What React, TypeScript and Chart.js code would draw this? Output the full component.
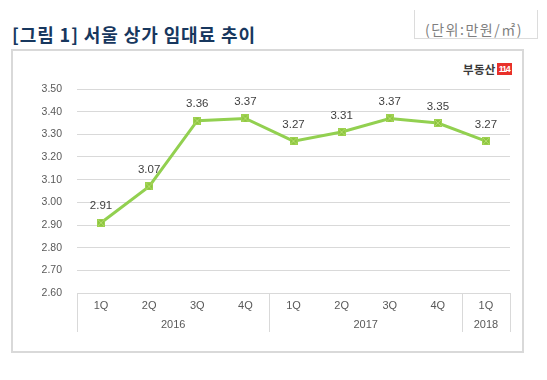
import React, { useEffect, useRef } from "react";
import { Chart, registerables } from "chart.js";

Chart.register(...registerables);

const quarters = ["1Q", "2Q", "3Q", "4Q", "1Q", "2Q", "3Q", "4Q", "1Q"];
const years = ["2016", "2017", "2018"];
const yearSpans = [4, 4, 1];
const rents = [2.91, 3.07, 3.36, 3.37, 3.27, 3.31, 3.37, 3.35, 3.27];
const yMin = 2.6;
const yMax = 3.5;
const yStep = 0.1;

const FONT = "'Liberation Sans', 'Noto Sans', sans-serif";
const KFONT = "'Noto Sans CJK KR', sans-serif";

function makeMarker() {
  const c = document.createElement("canvas");
  c.width = 8;
  c.height = 8;
  const g = c.getContext("2d")!;
  g.fillStyle = "#8cc63f";
  g.fillRect(0, 0, 8, 8);
  g.strokeStyle = "#b4dc6c";
  g.lineWidth = 1;
  g.beginPath();
  g.moveTo(1, 1);
  g.lineTo(7, 7);
  g.moveTo(7, 1);
  g.lineTo(1, 7);
  g.stroke();
  g.strokeStyle = "#9ed14f";
  g.strokeRect(0.5, 0.5, 7, 7);
  return c;
}

const axisPlugin = {
  id: "groupedAxis",
  afterDraw(chart: any) {
    const { ctx, chartArea, scales } = chart;
    const x = scales.x;
    const n = quarters.length;
    const step = (chartArea.right - chartArea.left) / n;
    const top = chartArea.bottom;
    const bottom = top + 39;
    ctx.save();
    ctx.strokeStyle = "#d9d9d9";
    ctx.lineWidth = 1;
    ctx.beginPath();
    ctx.moveTo(chartArea.left, top + 0.5);
    ctx.lineTo(chartArea.right, top + 0.5);
    let idx = 0;
    const edges = [0];
    yearSpans.forEach((s) => {
      idx += s;
      edges.push(idx);
    });
    edges.forEach((e) => {
      const px = Math.round(x.getPixelForValue(e) - step / 2) + 0.5;
      ctx.moveTo(px, top);
      ctx.lineTo(px, bottom);
    });
    ctx.stroke();
    ctx.fillStyle = "#595959";
    ctx.font = `11px ${FONT}`;
    ctx.textAlign = "center";
    ctx.textBaseline = "middle";
    quarters.forEach((q, i) => {
      ctx.fillText(q, x.getPixelForValue(i), top + 13);
    });
    let start = 0;
    years.forEach((y, j) => {
      const s = yearSpans[j];
      const cx = (x.getPixelForValue(start) + x.getPixelForValue(start + s - 1)) / 2;
      ctx.fillText(y, cx, top + 31.5);
      start += s;
    });
    const meta = chart.getDatasetMeta(0);
    ctx.fillStyle = "#404040";
    ctx.font = `11.5px ${FONT}`;
    meta.data.forEach((pt: any, i: number) => {
      ctx.fillText(rents[i].toFixed(2), pt.x, pt.y - 16.5);
    });
    ctx.restore();
  },
};

export default function App() {
  const ref = useRef<HTMLCanvasElement>(null);
  useEffect(() => {
    const marker = makeMarker();
    const chart = new Chart(ref.current!, {
      type: "line",
      data: {
        labels: quarters,
        datasets: [
          {
            data: rents,
            borderColor: "#92d050",
            borderWidth: 3,
            pointStyle: marker as any,
            pointRadius: 4,
            pointBackgroundColor: "#8cc63f",
            pointBorderColor: "#a2d65a",
            pointBorderWidth: 1,
            tension: 0,
          },
        ],
      },
      options: {
        animation: false,
        responsive: false,
        maintainAspectRatio: false,
        events: [],
        layout: { padding: { left: 0, right: 37, top: 89, bottom: 0 } },
        plugins: { legend: { display: false }, tooltip: { enabled: false } },
        scales: {
          x: {
            offset: true,
            grid: { display: false },
            border: { display: false },
            ticks: { display: false },
            afterFit: (s: any) => {
              s.height = 87;
            },
          },
          y: {
            min: yMin,
            max: yMax,
            grid: { color: "#d9d9d9", lineWidth: 1, drawTicks: false },
            border: { display: false },
            ticks: {
              stepSize: yStep,
              padding: 15,
              color: "#595959",
              font: { family: FONT, size: 10.5 },
              callback: (v: any) => Number(v).toFixed(2),
            },
            afterFit: (s: any) => {
              s.width = 77;
            },
          },
        },
      },
      plugins: [axisPlugin],
    });
    return () => chart.destroy();
  }, []);

  return (
    <div style={{ position: "absolute", left: 0, top: 0, width: 547, height: 380, background: "#fff", overflow: "hidden" }}>
      <div
        style={{
          position: "absolute",
          left: 12,
          top: 21,
          fontFamily: KFONT,
          fontWeight: 700,
          fontSize: 18,
          lineHeight: "26px",
          color: "#17375e",
          whiteSpace: "nowrap",
          letterSpacing: 0.9,
        }}
      >
        [그림 1] 서울 상가 임대료 추이
      </div>
      <div
        style={{
          position: "absolute",
          left: 414,
          top: 10,
          width: 124,
          height: 29,
          boxSizing: "border-box",
          borderLeft: "1px solid #dcdcdc",
          borderRight: "1px solid #dcdcdc",
          borderBottom: "1px solid #dcdcdc",
        }}
      >
        <span
          style={{
            position: "absolute",
            left: 10,
            top: -1,
            lineHeight: "40px",
            fontFamily: KFONT,
            fontSize: 14,
            color: "#7f7f7f",
            letterSpacing: 1.5,
            whiteSpace: "nowrap",
          }}
        >
          (단위:만원/㎡)
        </span>
      </div>
      <div
        style={{
          position: "absolute",
          left: 11,
          top: 49,
          width: 513,
          height: 304,
          boxSizing: "border-box",
          border: "2px solid #d9d9d9",
        }}
      />
      <div style={{ position: "absolute", left: 463, top: 62, height: 14, display: "flex", alignItems: "center", whiteSpace: "nowrap" }}>
        <span style={{ fontFamily: KFONT, fontWeight: 700, fontSize: 11.5, color: "#3a3a3a", letterSpacing: 0.3 }}>부동산</span>
        <span
          style={{
            marginLeft: 1,
            background: "#e8302a",
            color: "#fff",
            fontFamily: FONT,
            fontWeight: 700,
            fontSize: 9,
            lineHeight: "12px",
            width: 15,
            height: 12,
            textAlign: "center",
            letterSpacing: -1.2,
            overflow: "hidden",
          }}
        >
          114
        </span>
      </div>
      <canvas ref={ref} width={547} height={380} style={{ position: "absolute", left: 0, top: 0, width: 547, height: 380 }} />
    </div>
  );
}
